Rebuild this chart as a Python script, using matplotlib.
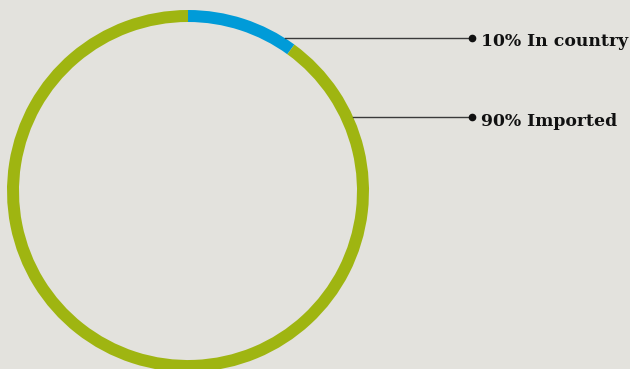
import numpy as np
import matplotlib
matplotlib.use("Agg")
import matplotlib.pyplot as plt

# ---- data ----
labels = ["In country", "Imported"]
shares = [10, 90]
colors = ["#009BD8", "#9FB511"]

BG = "#E3E2DD"
W, H = 630, 369

fig = plt.figure(figsize=(W / 100, H / 100), dpi=100)
fig.patch.set_facecolor(BG)
ax = fig.add_axes([0, 0, 1, 1])
ax.set_facecolor(BG)

cx, cy, r = 188, H - 191, 181
ax.pie(
    shares,
    colors=colors,
    startangle=90,
    counterclock=False,
    center=(cx, cy),
    radius=r,
    wedgeprops=dict(width=12, linewidth=0),
)

# leader lines and labels (y in pixel rows from top)
label_rows = [38, 117]
line_end = 472
for share, lab, row in zip(shares, labels, label_rows):
    y = H - row
    x0 = cx + np.sqrt(r ** 2 - (y - cy) ** 2)
    ax.plot([x0, line_end], [y, y], color="#3a3a3a", lw=1.0)
    ax.plot(line_end, y, "o", color="#111111", ms=4.5)
    ax.text(line_end + 9, y - 8.5, f"{share}% {lab}", fontsize=12.4,
            fontweight="bold", family=["DejaVu Serif", "Liberation Serif"],
            color="#111111", va="baseline", ha="left")

ax.set_xlim(0, W)
ax.set_ylim(0, H)
ax.set_aspect("auto")
ax.axis("off")

fig.savefig("out.png", dpi=100, facecolor=BG)
